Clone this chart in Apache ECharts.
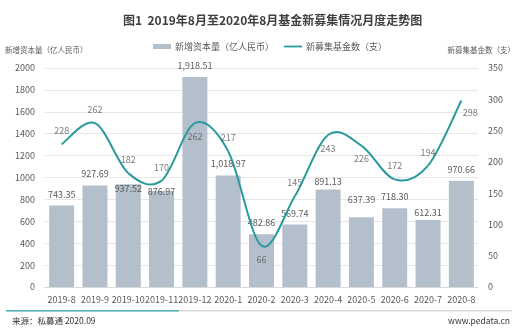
<!DOCTYPE html>
<html><head><meta charset="utf-8">
<script src="https://cdn.jsdelivr.net/npm/echarts@6/dist/echarts.min.js"></script>
<style>html,body{margin:0;padding:0;background:#fff}#c{width:519px;height:335px}</style>
</head><body><div id="c"></div>
<script>
const categories = ['2019-8','2019-9','2019-10','2019-11','2019-12','2020-1','2020-2','2020-3','2020-4','2020-5','2020-6','2020-7','2020-8'];
const capitalValues = [743.35, 927.69, 937.52, 876.97, 1918.51, 1018.97, 482.86, 569.74, 891.13, 637.39, 718.30, 612.31, 970.66];
const fundCounts = [228, 262, 182, 170, 262, 217, 66, 145, 243, 226, 172, 194, 298];
const seriesNames = ['新增资本量（亿人民币）', '新募集基金数（支）'];
const leftTicks = {min: 0, max: 2000, interval: 200};
const rightTicks = {min: 0, max: 350, interval: 50};

const FONT = '"Noto Sans CJK SC", "Noto Sans", sans-serif';
const txt = '#595959';
const LINE_COLOR = '#2a9a9f';
const BAR_COLOR = '#b4bfcc';

// label placement tweaks (styling only)
const barLabelTweak = {2: {offset: [0, 16]}, 3: {offset: [0, 12]}, 8: {offset: [0, 4]}, 9: {offset: [0, -6]}, 11: {offset: [0, 4]}};
const lineLabelTweak = {4: {position: 'bottom'}, 6: {position: 'bottom'}, 8: {position: 'bottom'}, 9: {position: 'bottom', distance: 8}, 12: {position: 'bottom', offset: [9, -1]}};

function fmt(v) {
  return v.toLocaleString('en-US', {minimumFractionDigits: 2, maximumFractionDigits: 2});
}

const barData = capitalValues.map((v, i) => {
  const t = barLabelTweak[i];
  return t ? {value: v, label: Object.assign({}, t)} : v;
});
const labelPoints = fundCounts.map((v, i) => {
  const t = lineLabelTweak[i];
  return t ? {value: [i, v], label: Object.assign({}, t)} : [i, v];
});

// Catmull-Rom style smooth curve, one bezier segment per data interval
function renderCurve(params, api) {
  const i = params.dataIndex;
  const n = fundCounts.length;
  if (i >= n - 1) return null;
  const idx = k => Math.max(0, Math.min(n - 1, k));
  const pt = k => api.coord([idx(k), fundCounts[idx(k)]]);
  const p0 = pt(i - 1), p1 = pt(i), p2 = pt(i + 1), p3 = pt(i + 2);
  const t = 1 / 6;
  return {
    type: 'bezierCurve',
    shape: {
      x1: p1[0], y1: p1[1], x2: p2[0], y2: p2[1],
      cpx1: p1[0] + (p2[0] - p0[0]) * t, cpy1: p1[1] + (p2[1] - p0[1]) * t,
      cpx2: p2[0] - (p3[0] - p1[0]) * t, cpy2: p2[1] - (p3[1] - p1[1]) * t
    },
    style: {stroke: LINE_COLOR, lineWidth: 2, fill: null}
  };
}

const chart = echarts.init(document.getElementById('c'));
chart.setOption({
  animation: false,
  textStyle: {fontFamily: FONT},
  title: {
    text: '图1  2019年8月至2020年8月基金新募集情况月度走势图',
    left: 118, top: 9,
    textStyle: {fontSize: 12, fontWeight: 'bold', color: '#404040', fontFamily: FONT}
  },
  legend: {
    top: 37, left: 148,
    itemGap: 10,
    textStyle: {fontSize: 9, color: txt, fontFamily: FONT, padding: [0, 0, 0, -1]},
    data: [
      {name: seriesNames[0], icon: 'rect', itemStyle: {color: BAR_COLOR}},
      {name: seriesNames[1], icon: 'path://M0,0L20,0L20,2L0,2Z', itemStyle: {color: LINE_COLOR}}
    ],
    itemWidth: 18, itemHeight: 5
  },
  grid: {left: 45, right: 41, top: 68, bottom: 48, containLabel: false},
  xAxis: {
    type: 'category', data: categories,
    axisLine: {lineStyle: {color: '#d9d9d9'}},
    axisTick: {show: false},
    axisLabel: {color: txt, fontSize: 9, interval: 0, margin: 8, fontFamily: FONT}
  },
  yAxis: [
    Object.assign({type: 'value',
     axisLine: {show: false}, axisTick: {show: false},
     axisLabel: {color: txt, fontSize: 9, margin: 10, fontFamily: FONT, formatter: v => String(v)},
     splitLine: {lineStyle: {color: '#e6e6e6'}}}, leftTicks),
    Object.assign({type: 'value',
     axisLine: {show: false}, axisTick: {show: false},
     axisLabel: {color: txt, fontSize: 9, margin: 10, fontFamily: FONT, formatter: v => String(v)},
     splitLine: {show: false}}, rightTicks)
  ],
  series: [
    {name: seriesNames[0], type: 'bar', data: barData, barWidth: '75%',
     itemStyle: {color: BAR_COLOR},
     label: {show: true, position: 'top', distance: 7, color: txt, fontSize: 9, fontFamily: FONT,
       formatter: p => fmt(p.value)}},
    {name: seriesNames[1], type: 'custom', yAxisIndex: 1, renderItem: renderCurve,
     data: fundCounts.map((v, i) => [i, v]), encode: {x: 0, y: 1},
     itemStyle: {color: LINE_COLOR}, z: 3},
    {name: 'labels', type: 'scatter', yAxisIndex: 1, data: labelPoints, symbolSize: 0,
     silent: true, z: 4,
     label: {show: true, position: 'top', distance: 9, color: txt, fontSize: 9, fontFamily: FONT,
       formatter: p => String(p.value[1])}}
  ],
  graphic: [
    {type: 'text', left: 5, top: 46, style: {text: '新增资本量（亿人民币）', fill: txt, fontSize: 7.5, fontFamily: FONT}},
    {type: 'text', right: 4, top: 46, style: {text: '新募集基金数（支）', fill: txt, fontSize: 7.5, fontFamily: FONT}},
    {type: 'rect', shape: {x: 6, y: 310, width: 506, height: 1.5}, style: {fill: '#d9d9d9'}},
    {type: 'rect', shape: {x: 6, y: 310, width: 173, height: 1.5}, style: {fill: '#4fb3b3'}},
    {type: 'text', left: 12, top: 317, style: {text: '来源：私募通 2020.09', fill: '#333', fontSize: 8.5, fontFamily: FONT}},
    {type: 'text', right: 9, top: 317, style: {text: 'www.pedata.cn', fill: '#333', fontSize: 8.5, fontFamily: FONT}}
  ]
});
</script></body></html>
